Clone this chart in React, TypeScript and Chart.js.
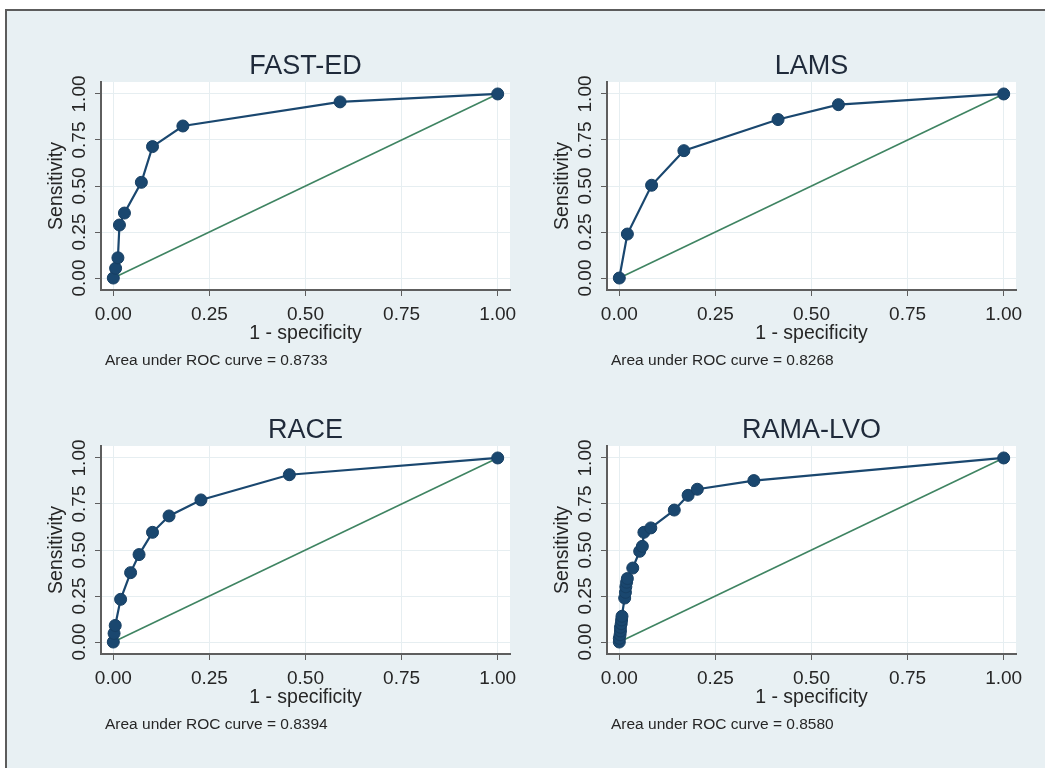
import React, { useEffect, useRef } from 'react';
import { Chart, registerables } from 'chart.js';

Chart.register(...registerables);

// ---------- data ----------
const TICK_VALUES = [0, 0.25, 0.5, 0.75, 1];
const TICK_LABELS = ['0.00', '0.25', '0.50', '0.75', '1.00'];
const X_TITLE = '1 - specificity';
const Y_TITLE = 'Sensitivity';
const AUC_PREFIX = 'Area under ROC curve = ';

const FAST_ED_FPR = [0, 0.006, 0.012, 0.016, 0.029, 0.073, 0.102, 0.181, 0.59, 1];
const FAST_ED_SENS = [0, 0.053, 0.11, 0.288, 0.353, 0.52, 0.714, 0.826, 0.957, 1];
const FAST_ED_AUC = '0.8733';

const LAMS_FPR = [0, 0.021, 0.084, 0.168, 0.413, 0.57, 1];
const LAMS_SENS = [0, 0.239, 0.504, 0.692, 0.861, 0.942, 1];
const LAMS_AUC = '0.8268';

const RACE_FPR = [0, 0.002, 0.005, 0.019, 0.045, 0.067, 0.102, 0.145, 0.228, 0.458, 1];
const RACE_SENS = [0, 0.047, 0.09, 0.232, 0.377, 0.475, 0.596, 0.685, 0.772, 0.909, 1];
const RACE_AUC = '0.8394';

const RAMA_FPR = [0, 0, 0.002, 0.003, 0.003, 0.005, 0.006, 0.007, 0.014, 0.016, 0.017, 0.019, 0.021, 0.035, 0.053, 0.06, 0.064, 0.082, 0.143, 0.179, 0.203, 0.35, 1];
const RAMA_SENS = [0, 0.02, 0.04, 0.06, 0.08, 0.1, 0.12, 0.14, 0.239, 0.27, 0.3, 0.325, 0.345, 0.402, 0.493, 0.52, 0.596, 0.62, 0.717, 0.797, 0.83, 0.877, 1];
const RAMA_AUC = '0.8580';

const REFERENCE_X = [0, 1];
const REFERENCE_Y = [0, 1];

// ---------- style ----------
const FONT = '"Liberation Sans", Arial, sans-serif';
const NAVY = '#1a476f';
const GREEN = '#3f8462';
const AXIS = '#5e5e5e';
const GRID = '#e6eef1';
const TEXT = '#262626';
const TITLE_COLOR = '#1f2a3a';
const BG = '#e8f0f3';

const PAD_L = 70;
const PAD_T = 50;
const PAD_R = 15;
const PAD_B = 90;
const PLOT_W = 409;
const PLOT_H = 208;

type PanelProps = {
  title: string;
  fpr: number[];
  sens: number[];
  auc: string;
  plotLeft: number;
  plotTop: number;
};

function Panel({ title, fpr, sens, auc, plotLeft, plotTop }: PanelProps) {
  const ref = useRef<HTMLCanvasElement | null>(null);
  const width = PAD_L + PLOT_W + PAD_R;
  const height = PAD_T + PLOT_H + PAD_B;

  useEffect(() => {
    if (!ref.current) return;
    const decor = {
      id: 'decor',
      beforeDraw(chart: any) {
        const { ctx, chartArea: a } = chart;
        ctx.save();
        ctx.fillStyle = '#ffffff';
        ctx.fillRect(a.left, a.top, a.right - a.left, a.bottom - a.top);
        ctx.restore();
      },
      afterDraw(chart: any) {
        const { ctx, chartArea: a } = chart;
        const ys = chart.scales.y;
        const cx = (a.left + a.right) / 2;
        const cy = (a.top + a.bottom) / 2;
        ctx.save();
        // title
        ctx.fillStyle = TITLE_COLOR;
        ctx.font = `27px ${FONT}`;
        ctx.textAlign = 'center';
        ctx.textBaseline = 'alphabetic';
        ctx.fillText(title, cx, a.top - 8.5);
        // x title
        ctx.fillStyle = TEXT;
        ctx.font = `19.5px ${FONT}`;
        ctx.fillText(X_TITLE, cx, a.bottom + 49);
        // auc
        ctx.font = `15.5px ${FONT}`;
        ctx.textAlign = 'left';
        ctx.fillText(AUC_PREFIX + auc, a.left + 4, a.bottom + 75);
        // y tick labels (rotated)
        ctx.font = `19px ${FONT}`;
        ctx.textAlign = 'center';
        TICK_VALUES.forEach((v, i) => {
          const py = ys.getPixelForValue(v);
          ctx.save();
          ctx.translate(a.left - 16, py);
          ctx.rotate(-Math.PI / 2);
          ctx.fillText(TICK_LABELS[i], 0, 0);
          ctx.restore();
        });
        // y title
        ctx.font = `19.5px ${FONT}`;
        ctx.save();
        ctx.translate(a.left - 39, cy);
        ctx.rotate(-Math.PI / 2);
        ctx.fillText(Y_TITLE, 0, 0);
        ctx.restore();
        ctx.restore();
      },
    };

    const setTicks = (s: any) => {
      s.ticks = TICK_VALUES.map((v) => ({ value: v }));
    };

    const chart = new Chart(ref.current, {
      type: 'scatter',
      data: {
        datasets: [
          {
            data: fpr.map((x, i) => ({ x, y: sens[i] })),
            showLine: true,
            borderColor: NAVY,
            borderWidth: 2.2,
            backgroundColor: NAVY,
            pointBackgroundColor: NAVY,
            pointBorderColor: '#173f63',
            pointBorderWidth: 1,
            pointRadius: 6,
            clip: false as any,
          },
          {
            data: REFERENCE_X.map((x, i) => ({ x, y: REFERENCE_Y[i] })),
            showLine: true,
            borderColor: GREEN,
            borderWidth: 1.6,
            pointRadius: 0,
          },
        ],
      },
      options: {
        animation: false,
        responsive: false,
        devicePixelRatio: 1,
        layout: { padding: { left: 0, right: PAD_R, top: PAD_T, bottom: 0 } },
        plugins: {
          legend: { display: false },
          tooltip: { enabled: false },
          title: { display: false },
        },
        scales: {
          x: {
            type: 'linear',
            min: -0.032,
            max: 1.032,
            afterBuildTicks: setTicks,
            afterFit: (s: any) => {
              s.height = PAD_B;
            },
            grid: { color: GRID, lineWidth: 1, tickColor: AXIS, tickLength: 6, drawTicks: true },
            border: { color: AXIS, width: 2 },
            ticks: {
              autoSkip: false,
              maxRotation: 0,
              padding: 7,
              color: TEXT,
              font: { family: FONT, size: 19 },
              callback: (_v: any, i: number) => TICK_LABELS[i],
            },
          },
          y: {
            type: 'linear',
            min: -0.065,
            max: 1.065,
            afterBuildTicks: setTicks,
            afterFit: (s: any) => {
              s.width = PAD_L;
            },
            grid: { color: GRID, lineWidth: 1, tickColor: AXIS, tickLength: 6, drawTicks: true },
            border: { color: AXIS, width: 2 },
            ticks: { display: false },
          },
        },
      },
      plugins: [decor],
    } as any);
    return () => chart.destroy();
  }, [title, fpr, sens, auc]);

  return (
    <canvas
      ref={ref}
      width={width}
      height={height}
      style={{
        position: 'absolute',
        left: plotLeft - PAD_L,
        top: plotTop - PAD_T,
        width,
        height,
      }}
    />
  );
}

export default function App() {
  return (
    <div>
      <div
        style={{
          position: 'absolute',
          left: 5,
          top: 9,
          width: 1040,
          height: 759,
          boxSizing: 'border-box',
          borderTop: '2px solid #5c5c5c',
          borderLeft: '2px solid #5c5c5c',
          background: BG,
        }}
      />
      <Panel title="FAST-ED" fpr={FAST_ED_FPR} sens={FAST_ED_SENS} auc={FAST_ED_AUC} plotLeft={101} plotTop={82} />
      <Panel title="LAMS" fpr={LAMS_FPR} sens={LAMS_SENS} auc={LAMS_AUC} plotLeft={607} plotTop={82} />
      <Panel title="RACE" fpr={RACE_FPR} sens={RACE_SENS} auc={RACE_AUC} plotLeft={101} plotTop={446} />
      <Panel title="RAMA-LVO" fpr={RAMA_FPR} sens={RAMA_SENS} auc={RAMA_AUC} plotLeft={607} plotTop={446} />
    </div>
  );
}
